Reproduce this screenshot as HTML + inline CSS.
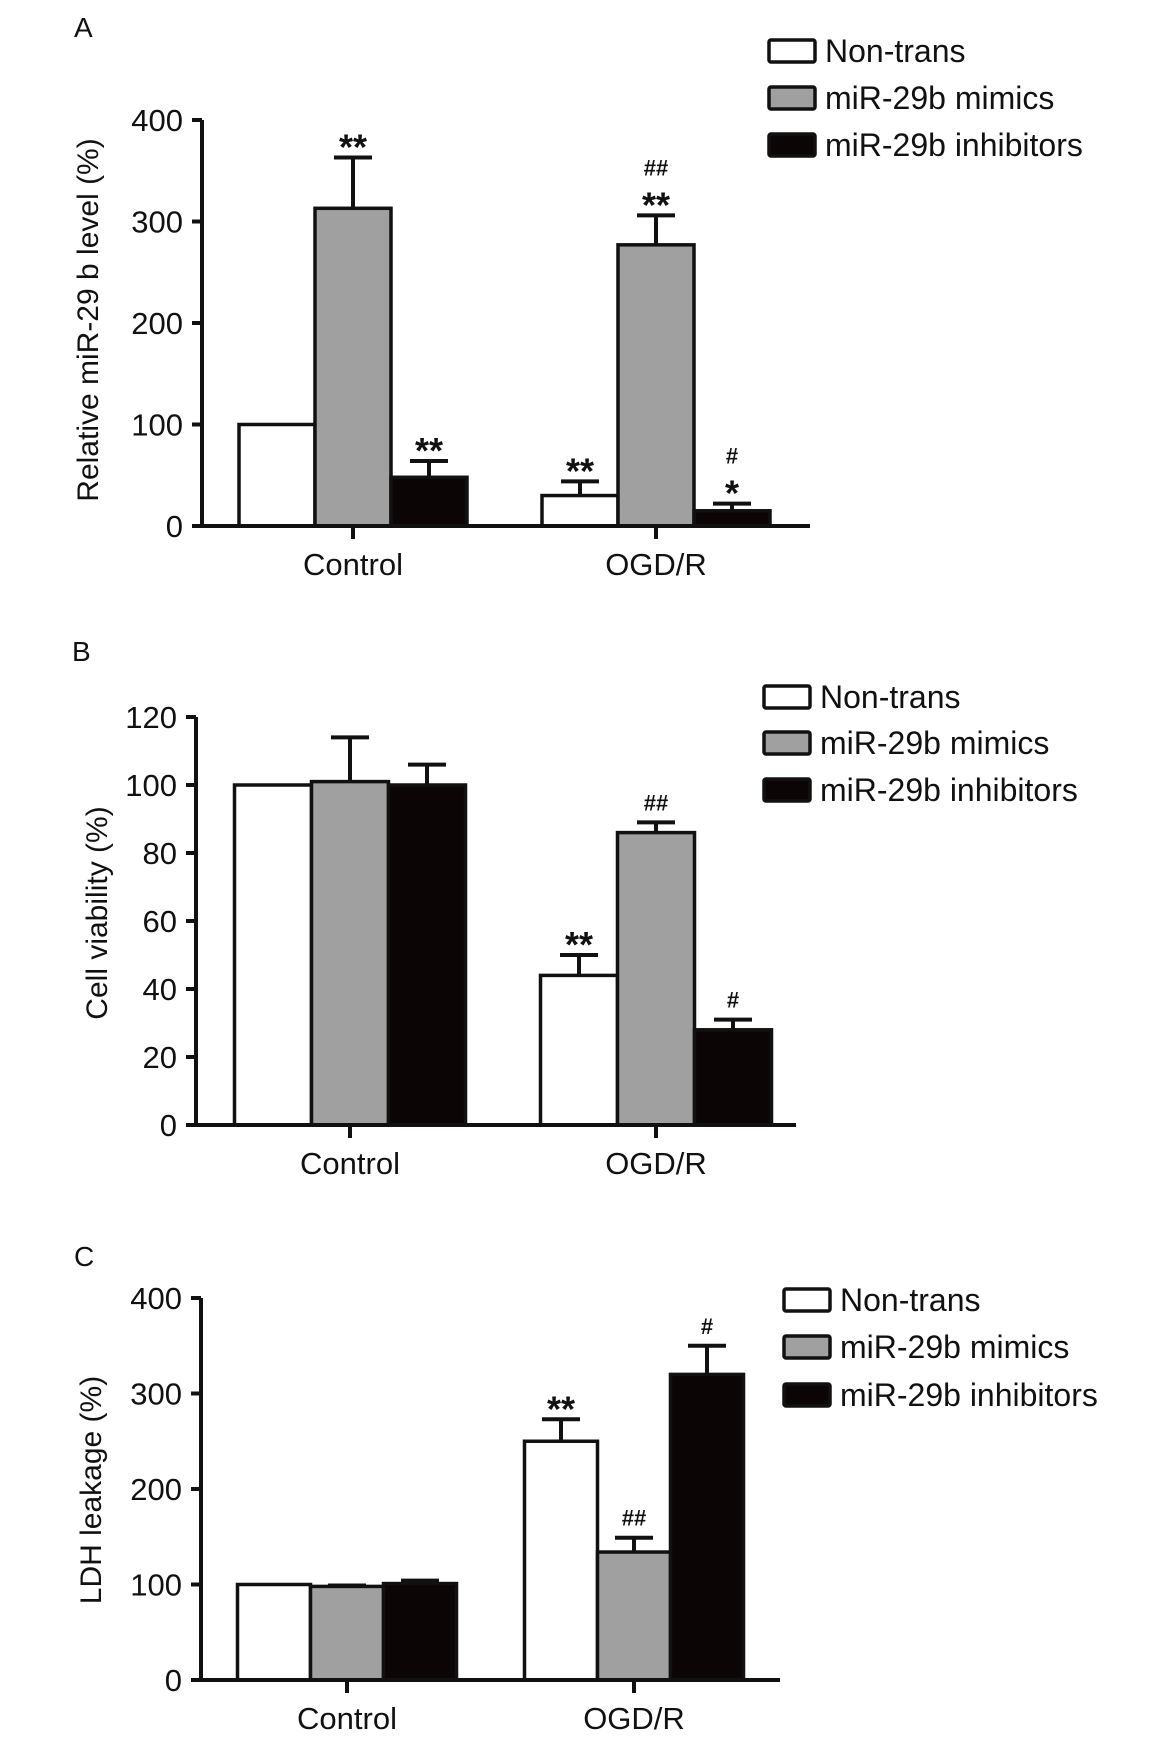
<!DOCTYPE html>
<html><head><meta charset="utf-8"><style>
html,body{margin:0;padding:0;background:#fff;}
svg{display:block;font-family:"Liberation Sans",Arial,sans-serif;}
</style></head><body>
<svg id="fig" width="1154" height="1738" viewBox="0 0 1154 1738" xmlns="http://www.w3.org/2000/svg"></svg>
<script>
// Panel A data
const categories = ["Control", "OGD/R"];
const seriesNames = ["Non-trans", "miR-29b mimics", "miR-29b inhibitors"];
const aTicks = [0, 100, 200, 300, 400];
const aMeans = [[100, 313, 48], [30, 277, 15]];
const aErrs = [[0, 50, 16], [14, 29, 7]];
const aMarks = [["", "**", "**"], ["**", "##|**", "#|*"]];
// Panel B data
const bTicks = [0, 20, 40, 60, 80, 100, 120];
const bMeans = [[100, 101, 100], [44, 86, 28]];
const bErrs = [[0, 13, 6], [6, 3, 3]];
const bMarks = [["", "", ""], ["**", "##", "#"]];
// Panel C data
const cTicks = [0, 100, 200, 300, 400];
const cMeans = [[100, 98, 101], [250, 134, 320]];
const cErrs = [[0, 1, 3], [23, 15, 30]];
const cMarks = [["", "", ""], ["**", "##", "#"]];

const fills = ["#ffffff", "#a0a0a0", "#0c0506"];
const NS = "http://www.w3.org/2000/svg";
const svg = document.getElementById("fig");
function mk(tag, attrs, parent) {
  const e = document.createElementNS(NS, tag);
  for (const k in attrs) e.setAttribute(k, attrs[k]);
  (parent || svg).appendChild(e);
  return e;
}

function panel(cfg) {
  const g = mk("g", {});
  
  
  const ymax = cfg.ticks[cfg.ticks.length - 1];
  const yS = v => cfg.y0 - (v / ymax) * (cfg.y0 - cfg.yTop);
  // letter
  const L = mk("text", {x: cfg.letterX, y: cfg.letterY, "font-size": 28, fill: "#111"}, g);
  L.textContent = cfg.letter;
  
  
  // bars
  for (let c = 0; c < categories.length; c++) {
    for (let s = 0; s < 3; s++) {
      const x0 = cfg.groupX[c] + (s - 1.5) * cfg.bw;
      const v = cfg.means[c][s], e = cfg.errs[c][s];
      const top = yS(v);
      if (e > 0) {
        const et = yS(v + e);
        const cx = x0 + cfg.bw / 2;
        const el = mk("path", {d: `M${cx} ${top} V${et} M${cx - 19} ${et} H${cx + 19}`, stroke: "#111", "stroke-width": 4, fill: "none"}, g);
        
        
      }
      const r = mk("rect", {x: x0, y: top, width: cfg.bw, height: cfg.y0 - top, fill: fills[s], stroke: "#111", "stroke-width": 3.5}, g);
      
      
      const m = cfg.marks[c][s];
      if (m) {
        const parts = m.split("|");
        let yy = yS(v + e) - 12;
        for (let p = parts.length - 1; p >= 0; p--) {
          const isStar = parts[p].indexOf("*") >= 0;
          const t = mk("text", {x: x0 + cfg.bw / 2, y: isStar ? yy + 14 : yy, "text-anchor": "middle", "font-size": isStar ? 36 : 22, "font-weight": "bold", fill: "#111"}, g);
          t.textContent = parts[p];
          
          
          yy -= isStar ? 28 : 24;
        }
      }
    }
  }
  // axes
  const ax = mk("path", {d: `M${cfg.axX} ${cfg.yTop} V${cfg.y0} M${cfg.axX - 10} ${cfg.y0} H${cfg.axEnd}`, stroke: "#111", "stroke-width": 4, fill: "none"}, g);
  
  
  cfg.ticks.forEach(t => {
    const y = yS(t);
    const tk = mk("line", {x1: cfg.axX - 10, x2: cfg.axX, y1: y, y2: y, stroke: "#111", "stroke-width": 4}, g);
    
    
    const tl = mk("text", {x: cfg.axX - 19, y: y + 11, "text-anchor": "end", "font-size": 31, fill: "#111"}, g);
    tl.textContent = t;
    
    
  });
  categories.forEach((c, i) => {
    const tk = mk("line", {x1: cfg.groupX[i], x2: cfg.groupX[i], y1: cfg.y0, y2: cfg.y0 + 13, stroke: "#111", "stroke-width": 4}, g);
    
    
    const tl = mk("text", {x: cfg.groupX[i], y: cfg.y0 + 49, "text-anchor": "middle", "font-size": 31, fill: "#111"}, g);
    tl.textContent = c;
    
    
  });
  const yt = mk("text", {x: 0, y: 0, "text-anchor": "middle", "font-size": 30, fill: "#111", transform: `translate(${cfg.titleX},${cfg.titleY}) rotate(-90)`}, g);
  yt.textContent = cfg.title;
  
  
  // legend
  seriesNames.forEach((n, i) => {
    const cy = cfg.legY[i];
    const b = mk("rect", {x: cfg.legX, y: cy - 11, width: 46, height: 22, fill: fills[i], stroke: "#111", "stroke-width": 3.5, rx: 2}, g);
    
    
    const t = mk("text", {x: cfg.legX + 56, y: cy + 11, "font-size": 32, fill: "#111"}, g);
    t.textContent = n;
    
    
  });
}

panel({name: "panel-a-mir29b-level", letter: "A", letterX: 74, letterY: 37, ticks: aTicks, means: aMeans, errs: aErrs, marks: aMarks,
  y0: 526, yTop: 120, axX: 202, axEnd: 810, groupX: [353, 656], bw: 76,
  title: "Relative miR-29 b level (%)", titleX: 98, titleY: 320, legX: 769, legY: [51, 98, 145]});
panel({name: "panel-b-cell-viability", letter: "B", letterX: 72, letterY: 661, ticks: bTicks, means: bMeans, errs: bErrs, marks: bMarks,
  y0: 1125, yTop: 717, axX: 196, axEnd: 796, groupX: [350, 656], bw: 77,
  title: "Cell viability (%)", titleX: 107, titleY: 913, legX: 764, legY: [697, 743, 790]});
panel({name: "panel-c-ldh-leakage", letter: "C", letterX: 74, letterY: 1266, ticks: cTicks, means: cMeans, errs: cErrs, marks: cMarks,
  y0: 1680, yTop: 1298, axX: 201, axEnd: 780, groupX: [347, 634], bw: 73,
  title: "LDH leakage (%)", titleX: 101, titleY: 1490, legX: 784, legY: [1300, 1347, 1395]});
</script>
</body></html>
